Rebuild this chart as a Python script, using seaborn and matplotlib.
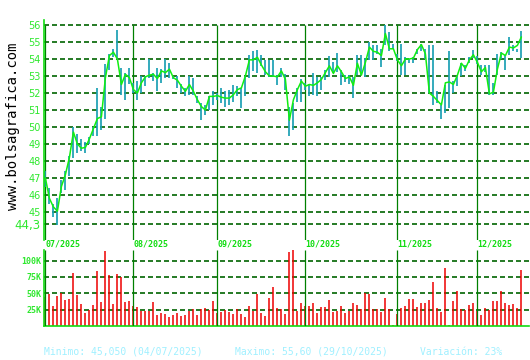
import matplotlib
matplotlib.use("Agg")
import matplotlib.pyplot as plt
import seaborn as sns
import pandas as pd
from matplotlib.transforms import blended_transform_factory

# ---------------- data ----------------
close = [47.0, 45.8, 45.3, 45.05, 46.5, 47.2, 48.2, 49.7, 49.0, 48.75,
         48.8, 49.3, 49.9, 50.5, 50.6, 52.9, 54.2, 54.4, 54.0, 52.5,
         53.1, 52.9, 52.2, 52.0, 52.6, 52.95, 53.05, 53.1, 52.85, 53.3,
         53.2, 53.4, 52.9, 52.75, 52.4, 52.1, 52.5, 52.1, 51.6, 51.2,
         51.0, 51.8, 51.8, 51.85, 51.75, 51.7, 51.7, 51.9, 52.2, 52.3,
         53.0, 53.95, 53.95, 54.1, 53.65, 53.25, 53.0, 53.0, 52.95, 53.3,
         52.8, 50.4, 51.6, 52.2, 52.7, 52.4, 52.5, 52.45, 52.6, 52.8,
         53.2, 53.6, 53.15, 53.6, 53.25, 52.85, 52.95, 52.45, 53.75, 53.05,
         53.8, 54.7, 54.45, 54.4, 54.2, 55.5, 54.6, 54.6, 53.95, 53.6,
         54.0, 54.0, 54.05, 54.55, 54.85, 54.3, 52.0, 51.8, 51.55, 51.3,
         52.6, 52.65, 52.5, 53.05, 53.75, 53.45, 53.95, 54.25, 53.8, 53.25,
         53.5, 51.95, 52.05, 53.4, 54.35, 54.2, 54.7, 54.65, 54.8, 55.3]
high = [47.4, 46.4, 45.5, 45.8, 46.9, 47.4, 48.3, 50.0, 49.6, 49.3,
        49.1, 49.4, 50.0, 52.3, 51.2, 53.7, 54.3, 54.6, 55.7, 53.45,
        53.15, 53.45, 52.6, 52.7, 53.0, 53.0, 54.0, 53.2, 53.5, 53.4,
        54.0, 53.75, 53.0, 53.0, 52.55, 52.3, 53.0, 52.9, 51.8, 51.4,
        51.3, 51.8, 52.1, 52.0, 52.3, 52.1, 52.2, 52.5, 52.4, 52.3,
        53.0, 54.25, 54.45, 54.55, 54.25, 53.95, 53.95, 53.95, 53.05, 53.5,
        53.1, 51.2, 51.4, 52.3, 52.8, 52.6, 52.55, 53.15, 52.95, 52.95,
        53.35, 54.15, 53.85, 54.35, 53.35, 53.05, 53.05, 52.95, 54.25, 54.25,
        54.05, 55.0, 54.8, 54.8, 54.6, 56.0, 55.6, 54.9, 54.3, 54.9,
        54.1, 54.0, 54.1, 54.6, 54.9, 54.6, 54.8, 54.8, 52.1, 51.3,
        52.45, 54.45, 52.7, 53.0, 53.75, 53.65, 54.1, 54.55, 54.2, 53.65,
        53.65, 53.65, 52.6, 54.3, 54.4, 54.25, 55.3, 54.8, 54.6, 55.65]
low = [46.5, 45.5, 44.7, 44.25, 46.1, 46.3, 47.1, 48.2, 48.45, 48.6,
       48.45, 49.0, 49.5, 49.5, 49.8, 50.5, 53.35, 54.1, 54.0, 51.9,
       51.6, 52.55, 52.0, 51.6, 52.0, 52.4, 52.9, 52.7, 52.1, 52.6,
       52.9, 52.9, 52.8, 52.3, 52.0, 51.8, 51.9, 51.9, 51.4, 50.4,
       50.7, 51.0, 51.3, 51.6, 51.4, 51.2, 51.3, 51.5, 51.8, 51.1,
       51.8, 52.9, 53.3, 53.2, 53.6, 53.05, 52.95, 52.95, 52.45, 52.95,
       52.15, 49.45, 49.8, 51.5, 51.5, 52.2, 51.8, 51.9, 51.85, 52.2,
       52.75, 52.95, 53.15, 53.25, 52.5, 52.65, 52.55, 51.7, 53.05, 53.05,
       52.95, 53.95, 53.95, 54.3, 53.55, 54.8, 54.5, 54.6, 53.9, 53.05,
       53.05, 53.75, 53.75, 54.3, 54.45, 54.0, 52.0, 51.3, 51.4, 50.5,
       50.8, 51.1, 52.0, 52.4, 53.0, 53.3, 53.75, 54.05, 53.7, 53.05,
       53.25, 51.9, 51.9, 53.05, 54.0, 53.35, 54.25, 54.5, 54.4, 54.05]
volume_k = [44.9, 49.0, 30.6, 45.9, 50.0, 39.8, 41.3, 81.6, 47.4, 33.7,
            20.4, 24.5, 32.1, 84.2, 36.7, 114.8, 78.1, 33.7, 80.1, 75.5,
            37.2, 38.3, 30.0, 29.6, 23.5, 23.5, 23.5, 37.2, 16.8, 20.4,
            18.4, 13.8, 16.8, 20.4, 15.8, 17.3, 23.5, 26.0, 17.3, 26.0,
            27.6, 24.5, 38.3, 20.0, 21.9, 24.5, 21.9, 18.4, 25.5, 18.4,
            14.3, 30.6, 23.5, 49.0, 20.4, 15.3, 42.3, 60.2, 27.0, 26.0,
            18.4, 113.3, 116.3, 23.5, 35.7, 30.0, 31.1, 35.7, 20.4, 29.1,
            29.1, 39.8, 21.9, 23.5, 30.6, 20.4, 23.5, 35.7, 32.1, 26.0,
            50.0, 49.0, 25.5, 25.5, 21.9, 43.4, 25.5, 1.5, 18.0, 27.0,
            30.6, 41.3, 41.3, 28.6, 34.7, 34.7, 39.8, 67.3, 27.0, 21.9,
            88.8, 1.5, 38.3, 53.6, 25.5, 24.5, 32.1, 35.2, 23.0, 16.8,
            27.0, 24.5, 38.3, 38.3, 53.6, 35.2, 32.1, 33.7, 27.0, 85.7]
month_labels = ["07/2025", "08/2025", "09/2025", "10/2025", "11/2025", "12/2025"]
month_start = [0, 22, 43, 65, 88, 108]
price_ticks = [44.3, 45, 46, 47, 48, 49, 50, 51, 52, 53, 54, 55, 56]
price_tick_labels = ["44,3", "45", "46", "47", "48", "49", "50", "51", "52", "53", "54", "55", "56"]
vol_ticks = [25, 50, 75, 100]
vol_tick_labels = ["25K", "50K", "75K", "100K"]
footer_min = "Minimo: 45,050 (04/07/2025)"
footer_max = "Maximo: 55,60 (29/10/2025)"
footer_var = "Variación: 23%"
site = "www.bolsagrafica.com"

# ---------------- style ----------------
sns.set_theme(style="white")
plt.rcParams['font.family'] = ['DejaVu Sans']

GRID = '#006400'
MONTH = '#008000'
SPINE = '#11dd11'
LABEL = '#2ee82e'
LINE = '#11ee11'
HL = '#1ba0b4'
VOL = '#ee0000'
FOOT = '#a0f0ff'

W, H = 530, 360
fig = plt.figure(figsize=(W / 100, H / 100), dpi=100)
fig.patch.set_facecolor('white')

left_px, right_px = 43.7, 529
ax = fig.add_axes([left_px / W, 1 - 240 / H, (right_px - left_px) / W, 220 / H])
axv = fig.add_axes([left_px / W, 1 - 326 / H, (right_px - left_px) / W, 76 / H])

days = list(range(len(close)))
df = pd.DataFrame({"day": days, "close": close, "high": high, "low": low})
dfv = pd.DataFrame({"day": days, "volume": volume_k})

x0 = (left_px - 45.4) / 4.0
x1 = (right_px - 45.4) / 4.0
ylo = 56 - 215 / 17
yhi = 56 + 5 / 17

dash = (0, (3.0, 1.8))

# ---- price panel ----
ax.hlines(price_ticks, x0, x1, colors=GRID, linewidth=1.2, linestyles=[dash], zorder=1)
ax.vlines(month_start, ylo, 56, colors=MONTH, linewidth=0.9, zorder=1)
ax.vlines(df["day"], df["low"], df["high"], colors=HL, linewidth=1.25, zorder=2)
sns.lineplot(data=df, x="day", y="close", ax=ax, color=LINE, linewidth=1.1, zorder=3)
ax.set_xlim(x0, x1)
ax.set_ylim(ylo, yhi)
ax.set_xlabel("")
ax.set_ylabel("")
ax.set_xticks([])
ax.set_yticks(price_ticks)
ax.set_yticklabels(price_tick_labels)
ax.tick_params(axis='y', length=0, pad=2, labelcolor=LABEL, labelsize=7)
for t in ax.get_yticklabels():
    if t.get_text() == "44,3":
        t.set_fontsize(8.5)
for s in ['top', 'right', 'bottom']:
    ax.spines[s].set_visible(False)
ax.spines['left'].set_color(SPINE)
ax.spines['left'].set_linewidth(1.2)
ax.set_facecolor('none')

# ---- volume panel ----
axv.hlines(vol_ticks, x0, x1, colors=GRID, linewidth=1.2, linestyles=[dash], zorder=1)
axv.vlines(dfv["day"], 0, dfv["volume"], colors=VOL, linewidth=1.1, zorder=2)
axv.vlines(month_start, 0, 116.3, colors=MONTH, linewidth=0.9, zorder=3)
axv.set_xlim(x0, x1)
axv.set_ylim(0, 116.3)
axv.set_xlabel("")
axv.set_ylabel("")
axv.set_xticks([])
axv.set_yticks(vol_ticks)
axv.set_yticklabels(vol_tick_labels)
axv.tick_params(axis='y', length=0, pad=1.5, labelcolor=LABEL, labelsize=6)
for t in axv.get_yticklabels():
    t.set_fontfamily('DejaVu Sans Mono')
    t.set_fontweight('bold')
for s in ['top', 'right']:
    axv.spines[s].set_visible(False)
for s in ['left', 'bottom']:
    axv.spines[s].set_color(SPINE)
    axv.spines[s].set_linewidth(1.2)
axv.set_facecolor('none')

# month labels
tr = blended_transform_factory(axv.transData, fig.transFigure)
for m, lab in zip(month_start, month_labels):
    axv.text(m, 1 - 244 / H, lab, transform=tr, ha='left', va='center',
             color=SPINE, fontsize=6, fontweight='bold', family='DejaVu Sans Mono')

# site text
fig.text(13 / W, 1 - 126 / H, site, rotation=90, ha='center', va='center',
         color='black', fontsize=10, family='DejaVu Sans Mono')

# footer
for xpx, txt in [(44.5, footer_min), (235, footer_max), (420, footer_var)]:
    fig.text(xpx / W, 1 - 352 / H, txt, ha='left', va='center', color=FOOT,
             fontsize=7, family='DejaVu Sans Mono')

fig.savefig("out.png", dpi=100, facecolor='white')
